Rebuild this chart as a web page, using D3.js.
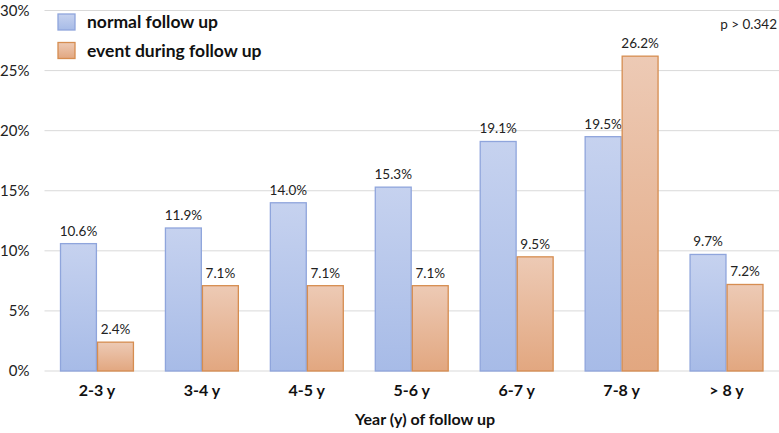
<!DOCTYPE html>
<html>
<head>
<meta charset="utf-8">
<script src="https://cdn.jsdelivr.net/npm/d3@7"></script>
<style>
  body { margin: 0; background: #fff; }
  svg { font-family: Lato, "Open Sans", sans-serif; }
</style>
</head>
<body>
<div id="chart"></div>
<script>
var categories = ["2-3 y", "3-4 y", "4-5 y", "5-6 y", "6-7 y", "7-8 y", "> 8 y"];
var seriesNames = ["normal follow up", "event during follow up"];
var normalValues = [10.6, 11.9, 14.0, 15.3, 19.1, 19.5, 9.7];
var eventValues = [2.4, 7.1, 7.1, 7.1, 9.5, 26.2, 7.2];
var yTicks = [0, 5, 10, 15, 20, 25, 30];

var width = 779, height = 433;
var margin = { top: 10.5, right: 0, bottom: 62, left: 44.5 };

var svg = d3.select("#chart").append("svg")
  .attr("width", width).attr("height", height);

var defs = svg.append("defs");
var grads = [
  { id: "gBlue", top: "#c6d2ef", bottom: "#a7bbe7" },
  { id: "gOrange", top: "#edcab5", bottom: "#e2a780" }
];
grads.forEach(function (g) {
  var lg = defs.append("linearGradient").attr("id", g.id)
    .attr("x1", 0).attr("y1", 0).attr("x2", 0).attr("y2", 1);
  lg.append("stop").attr("offset", "0%").attr("stop-color", g.top);
  lg.append("stop").attr("offset", "100%").attr("stop-color", g.bottom);
});
var fills = ["url(#gBlue)", "url(#gOrange)"];
var strokes = ["#8fa5dc", "#d68d50"];

var x = d3.scaleBand().domain(categories)
  .range([margin.left, width - margin.right]);
var x1 = d3.scaleBand().domain([0, 1])
  .range([16, x.bandwidth() - 16]).paddingInner(0.03);
var y = d3.scaleLinear().domain([0, 30])
  .range([height - margin.bottom, margin.top]);

// gridlines
svg.append("g").selectAll("line").data(yTicks).enter().append("line")
  .attr("x1", margin.left).attr("x2", width - margin.right)
  .attr("y1", function (d) { return y(d); })
  .attr("y2", function (d) { return y(d); })
  .attr("stroke", "#d9d9d9").attr("stroke-width", 1);

// y axis labels
var yAxis = d3.axisLeft(y).tickValues(yTicks)
  .tickFormat(function (d) { return d + "%"; }).tickSize(0).tickPadding(15);
var ya = svg.append("g").attr("transform", "translate(" + margin.left + ",0)").call(yAxis);
ya.select(".domain").remove();
ya.selectAll("text").attr("font-size", 15).attr("fill", "#222")
  .attr("font-family", "Lato, 'Open Sans', sans-serif");

var series = [normalValues, eventValues];
var groups = svg.append("g").selectAll("g").data(categories).enter().append("g")
  .attr("transform", function (d) { return "translate(" + x(d) + ",0)"; });

series.forEach(function (vals, si) {
  groups.append("rect")
    .attr("x", x1(si))
    .attr("width", x1.bandwidth())
    .attr("y", function (d, i) { return y(vals[i]); })
    .attr("height", function (d, i) { return y(0) - y(vals[i]); })
    .attr("fill", fills[si]).attr("stroke", strokes[si]).attr("stroke-width", 1.3);
  groups.append("text")
    .attr("x", x1(si) + x1.bandwidth() / 2)
    .attr("y", function (d, i) { return y(vals[i]) - 8; })
    .attr("text-anchor", "middle").attr("font-size", 13.5).attr("fill", "#222")
    .text(function (d, i) { return vals[i].toFixed(1) + "%"; });
});

// x axis labels
var xAxis = d3.axisBottom(x).tickSize(0).tickPadding(14);
var xa = svg.append("g").attr("transform", "translate(0," + y(0) + ")").call(xAxis);
xa.select(".domain").remove();
xa.selectAll("text").attr("font-size", 16).attr("font-weight", "bold").attr("fill", "#111")
  .attr("font-family", "Lato, 'Open Sans', sans-serif");

svg.append("text").attr("x", 425).attr("y", 425)
  .attr("text-anchor", "middle").attr("font-size", 16).attr("font-weight", "bold")
  .attr("fill", "#111").text("Year (y) of follow up");

// legend
var legend = svg.append("g").selectAll("g").data(seriesNames).enter().append("g")
  .attr("transform", function (d, i) { return "translate(58," + (14 + i * 28.5) + ")"; });
legend.append("rect").attr("width", 17).attr("height", 16)
  .attr("fill", function (d, i) { return fills[i]; })
  .attr("stroke", function (d, i) { return strokes[i]; }).attr("stroke-width", 1.3);
legend.append("text").attr("x", 29).attr("y", 14)
  .attr("font-size", 17.5).attr("font-weight", "bold").attr("fill", "#111")
  .text(function (d) { return d; });

svg.append("text").attr("x", 777).attr("y", 29).attr("text-anchor", "end")
  .attr("font-size", 13.5).attr("fill", "#222").text("p > 0.342");
</script>
</body>
</html>
